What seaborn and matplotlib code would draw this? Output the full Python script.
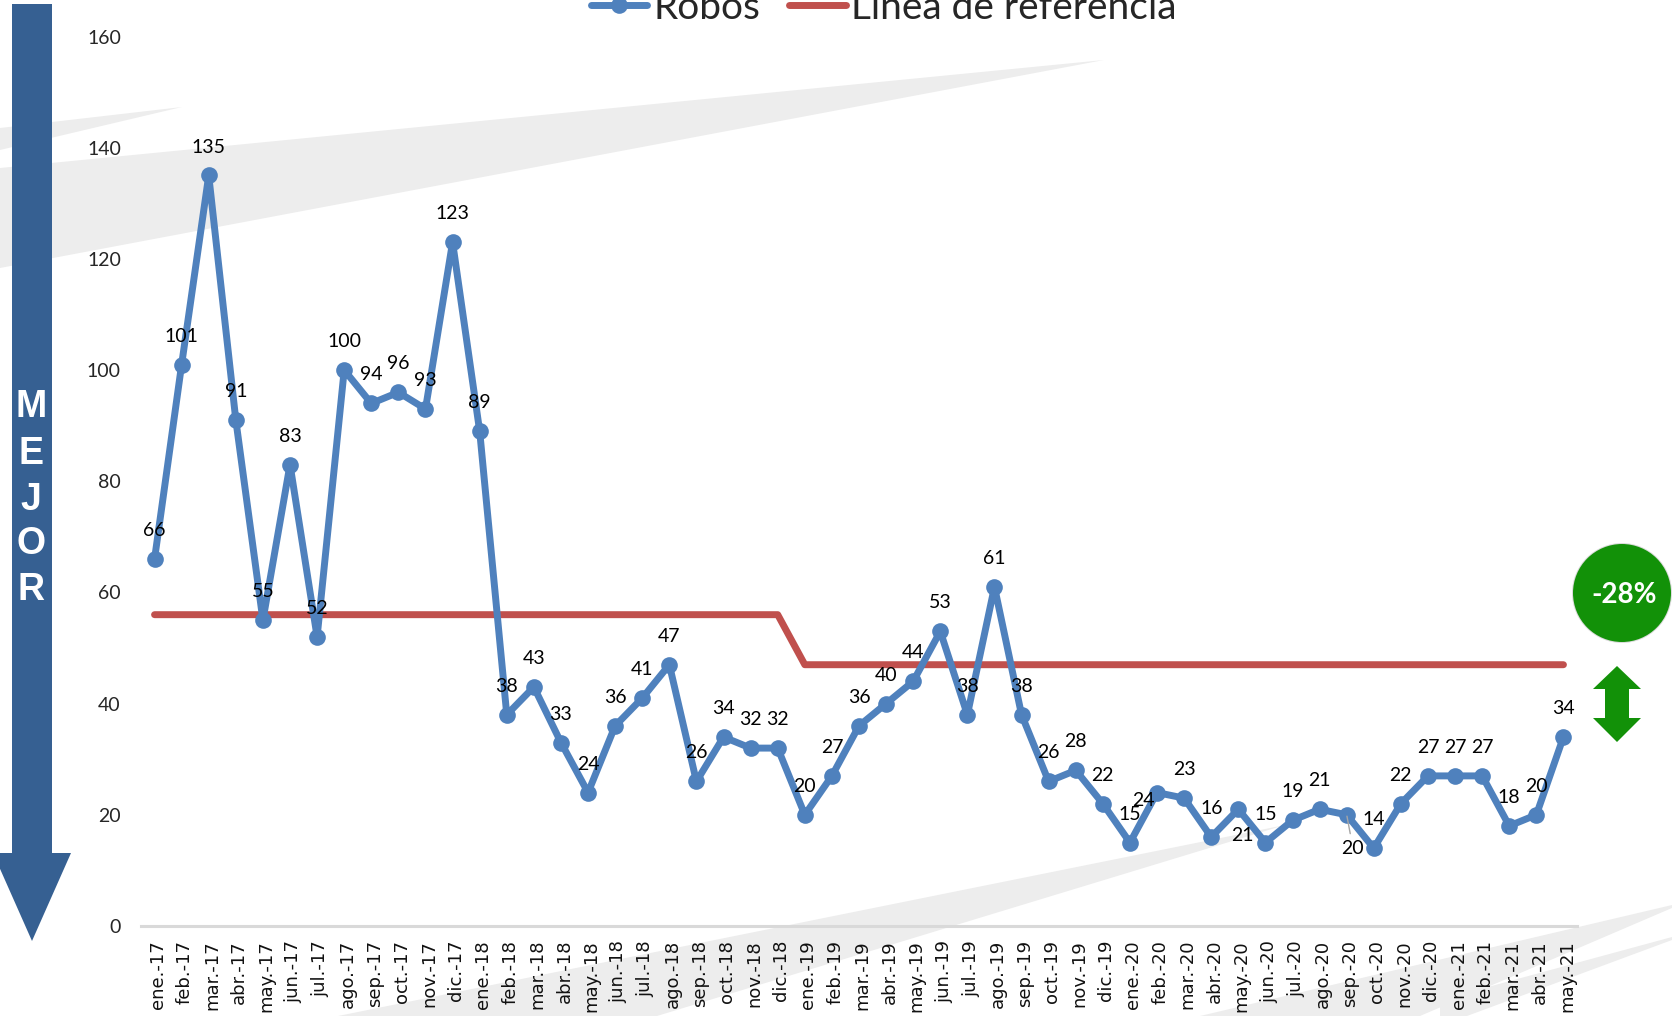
import matplotlib
matplotlib.use('Agg')
import matplotlib.pyplot as plt
import pandas as pd
import seaborn as sns
from matplotlib.patches import Ellipse, Polygon
from matplotlib.transforms import ScaledTranslation

months = ['ene.-17', 'feb.-17', 'mar.-17', 'abr.-17', 'may.-17', 'jun.-17', 'jul.-17', 'ago.-17', 'sep.-17',
          'oct.-17', 'nov.-17', 'dic.-17', 'ene.-18', 'feb.-18', 'mar.-18', 'abr.-18', 'may.-18', 'jun.-18',
          'jul.-18', 'ago.-18', 'sep.-18', 'oct.-18', 'nov.-18', 'dic.-18', 'ene.-19', 'feb.-19', 'mar.-19',
          'abr.-19', 'may.-19', 'jun.-19', 'jul.-19', 'ago.-19', 'sep.-19', 'oct.-19', 'nov.-19', 'dic.-19',
          'ene.-20', 'feb.-20', 'mar.-20', 'abr.-20', 'may.-20', 'jun.-20', 'jul.-20', 'ago.-20', 'sep.-20',
          'oct.-20', 'nov.-20', 'dic.-20', 'ene.-21', 'feb.-21', 'mar.-21', 'abr.-21', 'may.-21']
robos = [66, 101, 135, 91, 55, 83, 52, 100, 94, 96, 93, 123, 89, 38, 43, 33, 24, 36, 41, 47, 26, 34, 32, 32,
         20, 27, 36, 40, 44, 53, 38, 61, 38, 26, 28, 22, 15, 24, 23, 16, 21, 15, 19, 21, 20, 14, 22, 27, 27,
         27, 18, 20, 34]
referencia = [56] * 24 + [47] * 29
yticks = [0, 20, 40, 60, 80, 100, 120, 140, 160]

W, H = 1672, 1016
BLUE = '#4F81BD'
RED = '#C0504D'
NAVY = '#366092'
GREEN = '#129108'
WEDGE = '#EDEDED'

sns.set_theme(style='white')
plt.rcParams['font.family'] = ['Lato', 'DejaVu Sans']

fig = plt.figure(figsize=(W / 100, H / 100), dpi=100)
ax = fig.add_axes([141 / W, 1 - 926 / H, (1577 - 141) / W, (926 - 36.5) / H])
ax.set_zorder(2)
ax.patch.set_alpha(0)


def px(points):
    return [(x / W, 1 - y / H) for x, y in points]


def shape(points, color, zorder=1, **kw):
    fig.add_artist(Polygon(px(points), closed=True, facecolor=color, edgecolor='none',
                           transform=fig.transFigure, zorder=zorder, **kw))


# grey swooshes behind the chart
shape([(0, 168), (1104, 60), (0, 268)], WEDGE)
shape([(0, 128), (182, 107), (0, 150)], WEDGE)
shape([(338, 1016), (1285, 825), (657, 1016)], WEDGE)
shape([(1200, 1016), (1672, 905), (1672, 908), (1420, 1016)], WEDGE)
shape([(1440, 1000), (1672, 937), (1672, 940), (1467, 1016), (1440, 1016)], WEDGE)

# MEJOR arrow
shape([(12, 4), (52, 4), (52, 853), (71, 853), (32, 941), (-7, 853), (12, 853)], NAVY)
for letter, y in zip('MEJOR', [407, 453.5, 499.5, 544.5, 590.5]):
    fig.text(31 / W, 1 - y / H, letter, color='white', fontsize=27, fontweight='bold',
             family='Liberation Sans', ha='center', va='center', zorder=3)

# green badge and double arrow
fig.add_artist(Ellipse((1622 / W, 1 - 593 / H), 100 / W, 100 / H, transform=fig.transFigure,
                       facecolor='#888888', edgecolor='none', alpha=0.3, zorder=1))
fig.add_artist(Ellipse((1622 / W, 1 - 593 / H), 98 / W, 98 / H, transform=fig.transFigure,
                       facecolor=GREEN, edgecolor='none', zorder=1))
fig.text(1624 / W, 1 - 595 / H, '-28%', color='white', fontsize=20, fontweight='bold',
         ha='center', va='center', zorder=3)
shape([(1617, 666), (1641, 689), (1629, 689), (1629, 718), (1641, 718), (1617, 742), (1593, 718),
       (1605, 718), (1605, 689), (1593, 689)], GREEN)

df = pd.DataFrame({'mes': months, 'Robos': robos, 'Línea de referencia': referencia})

sns.lineplot(data=df, x='mes', y='Robos', sort=False, errorbar=None, color=BLUE, linewidth=5,
             marker='o', markersize=12, markeredgewidth=0, label='Robos', ax=ax, zorder=4)
sns.lineplot(data=df, x='mes', y='Línea de referencia', sort=False, errorbar=None, color=RED, linewidth=5,
             solid_capstyle='round', label='Línea de referencia', ax=ax, zorder=3)

ax.set_xlim(-0.5, len(months) - 0.5)
ax.set_ylim(0, 160)
ax.set_yticks(yticks)
ax.set_xlabel('')
ax.set_ylabel('')
ax.tick_params(axis='x', rotation=90, labelsize=13, length=0, pad=10, labelfontfamily='DejaVu Sans',
               labelcolor='#111111')
ax.tick_params(axis='y', labelsize=14, length=0, pad=14.5)
# month labels sit a little right of their points in the original
nudge = ScaledTranslation(2.5 / 72, 0, fig.dpi_scale_trans)
for lab in ax.get_xticklabels():
    lab.set_transform(lab.get_transform() + nudge)
sns.despine(ax=ax, left=True)
ax.spines['bottom'].set_color('#D9D9D9')
ax.spines['bottom'].set_linewidth(2.2)

# labels sit above the point, except these few (offset in points)
moved = {'feb.-20': (-10, -5.5), 'may.-20': (3, -19), 'sep.-20': (4.5, -24)}
for mes, val in zip(months, robos):
    off = moved.get(mes, (0, 20.5))
    arrow = dict(arrowstyle='-', color='#A6A6A6', lw=1, shrinkA=2, shrinkB=1) if mes == 'sep.-20' else None
    ax.annotate(str(val), (mes, val), xytext=off, textcoords='offset points', ha='center', va='center',
                fontsize=14, color='black', zorder=5, arrowprops=arrow)

leg = ax.legend(loc='center', bbox_to_anchor=(884 / W, 1 - 8 / H), bbox_transform=fig.transFigure, ncol=2,
                frameon=False, fontsize=28, handlelength=1.45, handletextpad=0.15, columnspacing=0.75,
                borderpad=0, borderaxespad=0)

plt.savefig('out.png', dpi=100)
plt.close()
